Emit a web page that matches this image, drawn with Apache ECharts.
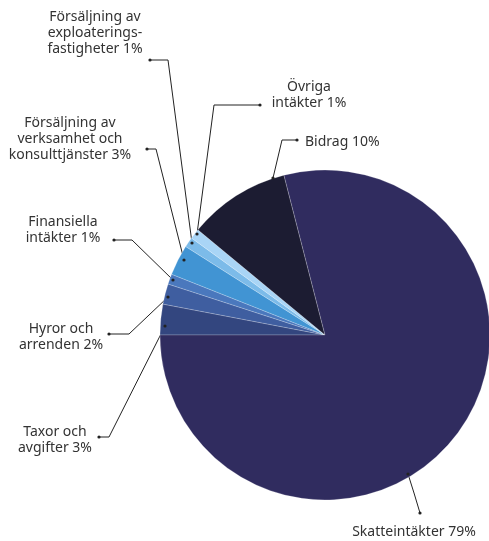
<!DOCTYPE html>
<html><head><meta charset="utf-8">
<script src="https://cdn.jsdelivr.net/npm/echarts@6/dist/echarts.min.js"></script>
<style>html,body{margin:0;padding:0;background:#fff}#c{width:489px;height:541px}</style>
</head><body><div id="c"></div>
<script>
// Data
const categories = ['Taxor och\navgifter', 'Hyror och\narrenden', 'Finansiella\nintäkter', 'Försäljning av\nverksamhet och\nkonsulttjänster', 'Försäljning av\nexploaterings-\nfastigheter', 'Övriga\nintäkter', 'Bidrag', 'Skatteintäkter'];
const shares = [3, 2, 1, 3, 1, 1, 10, 79];
const colors = ['#33467f', '#3f5ea0', '#4a78bd', '#4194d3', '#7cbbe9', '#a9d5f6', '#1c1c32', '#302c5f'];

// Label annotation layout (positions of label text and leader lines)
const labelLayouts = [
  { x: 55, y: 440, align: 'center', line: [[165, 326], [109, 437], [99, 437]] },
  { x: 61, y: 337, align: 'center', line: [[168, 297], [129, 334], [109, 334]] },
  { x: 63, y: 230, align: 'center', line: [[173, 280], [132, 240], [114, 240]] },
  { x: 70, y: 139, align: 'center', line: [[184, 260], [156, 149], [147, 149]] },
  { x: 95, y: 33, align: 'center', line: [[192, 243], [168, 60], [150, 60]] },
  { x: 309, y: 95, align: 'center', line: [[197, 234], [214, 105], [260, 105]] },
  { x: 305, y: 142, align: 'left', line: [[273, 178], [282, 140], [297, 140]] },
  { x: 414, y: 532, align: 'center', line: [[408, 474], [414, 493], [420, 513]] }
];

const chart = echarts.init(document.getElementById('c'), null, { renderer: 'canvas' });
const dots = [];
labelLayouts.forEach(L => {
  [L.line[0], L.line[2]].forEach(p => dots.push({ type: 'circle', shape: { cx: p[0], cy: p[1], r: 1.6 }, style: { fill: '#222' }, z: 100 }));
});
chart.setOption({
  animation: false,
  color: colors,
  graphic: dots,
  series: [{
    type: 'pie',
    center: [325, 335],
    radius: 165,
    startAngle: 180,
    clockwise: true,
    avoidLabelOverlap: false,
    itemStyle: { borderColor: 'rgba(255,255,255,0.35)', borderWidth: 0.6 },
    label: {
      show: true, position: 'outside', formatter: '{b} {c}%',
      fontFamily: 'Noto Sans', fontSize: 14, color: '#333', lineHeight: 16
    },
    labelLine: { show: true, smooth: false, lineStyle: { color: '#222', width: 1 } },
    labelLayout: function (params) {
      const L = labelLayouts[params.dataIndex];
      return { x: L.x, y: L.y, align: L.align, verticalAlign: 'middle', labelLinePoints: L.line };
    },
    emphasis: { disabled: true },
    data: categories.map((n, i) => ({ name: n, value: shares[i] }))
  }]
});
</script></body></html>
